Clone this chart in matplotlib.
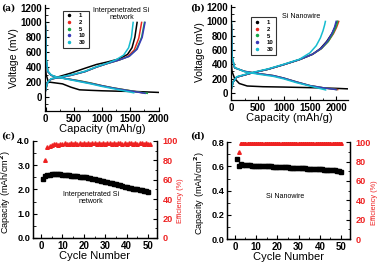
import numpy as np
import matplotlib.pyplot as plt
from matplotlib.ticker import AutoMinorLocator

plt.rcParams['font.family'] = 'Liberation Sans'
plt.rcParams['font.weight'] = 'bold'

cycles = ['1', '2', '5', '10', '30']
colors = ['#000000', '#e8281e', '#16a84a', '#3a3ab8', '#16bcd0']

# ---- (a) interpenetrated Si network: voltage profiles (capacity mAh/g, voltage mV)
a_dis_cap = [
    [0, 10, 50, 150, 300, 450, 600, 800, 1000, 1300, 1600, 1800, 2000],
    [0, 10, 40, 100, 200, 400, 600, 800, 1000, 1200, 1400, 1600, 1720],
    [0, 10, 40, 100, 200, 400, 600, 800, 1000, 1200, 1400, 1600, 1800],
    [0, 10, 40, 100, 200, 400, 600, 800, 1000, 1200, 1400, 1600, 1760],
    [0, 10, 40, 100, 200, 400, 600, 800, 1000, 1200, 1400, 1560],
]
a_dis_v = [
    [380, 300, 200, 190, 175, 130, 95, 88, 82, 76, 72, 66, 60],
    [950, 500, 340, 290, 265, 240, 215, 185, 150, 120, 95, 70, 55],
    [950, 500, 340, 290, 265, 240, 215, 185, 150, 120, 95, 70, 48],
    [950, 500, 340, 290, 265, 240, 210, 180, 148, 118, 92, 68, 48],
    [1000, 520, 350, 295, 265, 235, 205, 175, 140, 110, 80, 55],
]
a_chg_cap = [
    [0, 30, 100, 250, 450, 700, 900, 1100, 1300, 1450, 1530, 1580, 1620],
    [0, 30, 100, 250, 450, 700, 900, 1100, 1300, 1450, 1570, 1650, 1700],
    [0, 30, 100, 250, 450, 700, 900, 1100, 1300, 1480, 1610, 1700, 1750],
    [0, 30, 100, 250, 450, 700, 900, 1100, 1300, 1480, 1620, 1710, 1760],
    [0, 30, 100, 250, 450, 700, 900, 1100, 1250, 1380, 1470, 1520, 1550],
]
a_chg_v = [
    [80, 180, 240, 275, 320, 385, 435, 470, 510, 570, 660, 800, 1000],
    [90, 190, 240, 262, 290, 340, 400, 450, 495, 540, 630, 790, 1000],
    [90, 190, 240, 262, 290, 340, 400, 450, 495, 545, 640, 800, 1000],
    [90, 190, 240, 262, 290, 340, 400, 450, 495, 545, 640, 800, 1000],
    [90, 190, 245, 265, 295, 345, 405, 455, 500, 560, 660, 800, 1000],
]

# ---- (b) Si nanowire: voltage profiles
b_dis_cap = [
    [0, 10, 60, 150, 300, 600, 1000, 1500, 2000, 2220],
    [0, 10, 60, 250, 500, 800, 1000, 1250, 1500, 1750, 2030],
    [0, 10, 60, 250, 500, 800, 1000, 1250, 1500, 1750, 2010],
    [0, 10, 60, 250, 500, 800, 1000, 1250, 1500, 1750, 2000],
    [0, 10, 60, 250, 500, 800, 1000, 1250, 1500, 1800],
]
b_dis_v = [
    [400, 300, 200, 130, 95, 85, 80, 72, 62, 55],
    [950, 500, 350, 300, 270, 240, 205, 150, 100, 70, 45],
    [950, 500, 350, 300, 270, 240, 205, 150, 100, 70, 45],
    [950, 500, 350, 300, 270, 240, 205, 150, 100, 70, 45],
    [1000, 520, 355, 295, 262, 230, 195, 140, 95, 40],
]
b_chg_cap = [
    [0, 30, 100, 400, 700, 1000, 1300, 1550, 1700, 1820, 1920, 1980, 2020],
    [0, 30, 100, 400, 700, 1000, 1300, 1550, 1720, 1850, 1950, 2010, 2050],
    [0, 30, 100, 400, 700, 1000, 1300, 1550, 1720, 1850, 1940, 1995, 2030],
    [0, 30, 100, 400, 700, 1000, 1300, 1550, 1710, 1830, 1920, 1970, 2000],
    [0, 30, 100, 400, 700, 1000, 1300, 1500, 1620, 1700, 1750, 1780, 1795],
]
b_chg_v = [
    [60, 150, 220, 280, 330, 395, 465, 540, 620, 720, 830, 920, 1000],
    [60, 150, 220, 280, 330, 395, 465, 540, 620, 720, 830, 920, 1000],
    [60, 150, 220, 280, 330, 395, 465, 540, 620, 720, 830, 920, 1000],
    [60, 150, 220, 280, 330, 395, 465, 540, 620, 720, 830, 920, 1000],
    [60, 150, 225, 285, 335, 400, 470, 560, 660, 770, 870, 950, 1000],
]

# ---- (c) interpenetrated Si network: cycling
c_cycle = list(range(1, 51))
c_capacity = [2.45, 2.55, 2.58, 2.60, 2.62, 2.63, 2.63, 2.62, 2.62, 2.61,
              2.60, 2.59, 2.58, 2.57, 2.56, 2.55, 2.54, 2.53, 2.52, 2.51,
              2.50, 2.48, 2.46, 2.44, 2.42, 2.40, 2.38, 2.36, 2.34, 2.32,
              2.30, 2.28, 2.26, 2.24, 2.22, 2.20, 2.18, 2.15, 2.12, 2.10,
              2.08, 2.06, 2.04, 2.02, 2.00, 1.98, 1.96, 1.94, 1.92, 1.91]
c_eff_cycle = list(range(2, 52))
c_efficiency = [80, 94, 95, 96, 97, 97, 96, 97, 97, 98,
                97, 97, 98, 97, 98, 97, 98, 97, 98, 97,
                98, 97, 98, 98, 97, 98, 97, 98, 97, 98,
                98, 97, 98, 97, 98, 98, 97, 98, 97, 98,
                98, 97, 98, 97, 98, 98, 97, 98, 97, 97]

# ---- (d) Si nanowire: cycling
d_cycle = list(range(1, 51))
d_capacity = [0.66, 0.60, 0.62, 0.615, 0.612, 0.610, 0.609, 0.608, 0.607, 0.606,
              0.605, 0.604, 0.603, 0.602, 0.601, 0.600, 0.600, 0.599, 0.598, 0.597,
              0.596, 0.595, 0.594, 0.593, 0.592, 0.591, 0.590, 0.589, 0.588, 0.587,
              0.586, 0.585, 0.584, 0.583, 0.582, 0.581, 0.580, 0.579, 0.578, 0.577,
              0.576, 0.575, 0.574, 0.573, 0.572, 0.570, 0.568, 0.566, 0.562, 0.558]
d_eff_cycle = list(range(2, 51))
d_efficiency = [90] + [99] * 48

RED = '#ee2222'

fig = plt.figure(figsize=(3.78, 2.65), dpi=100)

ax_a = fig.add_axes([0.119, 0.581, 0.302, 0.399])
ax_b = fig.add_axes([0.611, 0.623, 0.310, 0.358])
ax_c = fig.add_axes([0.0873, 0.102, 0.328, 0.366])
ax_d = fig.add_axes([0.6005, 0.098, 0.325, 0.365])


def style_ax(ax, size=7):
    ax.tick_params(direction='in', labelsize=size, width=0.8, length=3, pad=2)
    ax.tick_params(which='minor', direction='in', width=0.6, length=1.8)
    for sp in ax.spines.values():
        sp.set_linewidth(0.9)


def voltage_panel(ax, dis_cap, dis_v, chg_cap, chg_v, xmax, ybot):
    for i in range(len(cycles)):
        ax.plot(dis_cap[i], dis_v[i], color=colors[i], lw=1.1)
        ax.plot(chg_cap[i], chg_v[i], color=colors[i], lw=1.1)
    ax.set_xlim(-10, xmax)
    ax.set_ylim(ybot, 1230)
    ax.set_xticks([0, 500, 1000, 1500, 2000])
    ax.set_yticks([0, 200, 400, 600, 800, 1000, 1200])
    ax.xaxis.set_minor_locator(AutoMinorLocator(2))
    ax.yaxis.set_minor_locator(AutoMinorLocator(2))
    ax.spines['top'].set_visible(False)
    ax.spines['right'].set_visible(False)
    ax.set_xlabel('Capacity (mAh/g)', fontsize=8, labelpad=0)
    ax.set_ylabel('Voltage (mV)', fontsize=7.5, labelpad=1)
    style_ax(ax)
    handles = [plt.Line2D([], [], ls='none', marker='o', ms=1.5, color=c) for c in colors]
    leg = ax.legend(handles, cycles, loc='upper left', fontsize=4.3,
                    frameon=True, fancybox=False, edgecolor='black', handlelength=1.0,
                    handletextpad=1.2, borderpad=0.45, labelspacing=0.25,
                    borderaxespad=0)
    leg.get_frame().set_linewidth(0.8)
    return leg


leg = voltage_panel(ax_a, a_dis_cap, a_dis_v, a_chg_cap, a_chg_v, 2010, -190)
leg.set_bbox_to_anchor((0.16, 0.95), transform=ax_a.transAxes)
ax_a.text(0.67, 0.98, 'Interpenetrated Si\nnetwork', transform=ax_a.transAxes,
          fontsize=5, ha='center', va='top', fontweight='normal', linespacing=1.0)

leg = voltage_panel(ax_b, b_dis_cap, b_dis_v, b_chg_cap, b_chg_v, 2230, -100)
leg.set_bbox_to_anchor((0.17, 0.87), transform=ax_b.transAxes)
ax_b.text(0.60, 0.92, 'Si Nanowire', transform=ax_b.transAxes,
          fontsize=5, ha='center', va='top', fontweight='normal')


def cycle_panel(ax, cyc, cap, ecyc, eff, ymax, ystep, label, lx, rx):
    ax.plot(cyc, cap, ls='none', marker='s', ms=2.6, color='black')
    ax.set_xlim(-3.7, 54.1)
    ax.set_ylim(0, ymax)
    ax.set_xticks([0, 10, 20, 30, 40, 50])
    ax.set_yticks(np.arange(0, ymax + ystep / 2, ystep))
    ax.yaxis.set_major_formatter(plt.FormatStrFormatter('%.1f'))
    ax.xaxis.set_minor_locator(AutoMinorLocator(2))
    ax.yaxis.set_minor_locator(AutoMinorLocator(2))
    ax.spines['top'].set_visible(False)
    ax.set_xlabel('Cycle Number', fontsize=8, labelpad=0)
    ax.set_ylabel('Capacity (mAh/cm$^\\mathbf{2}$)', fontsize=6.6)
    ax.yaxis.set_label_coords(lx, 0.47)
    style_ax(ax, 6.6)
    ax.tick_params(axis='x', labelsize=7)
    ax2 = ax.twinx()
    ax2.plot(ecyc, eff, ls='none', marker='^', ms=2.6, color=RED)
    ax2.set_ylim(0, 100)
    ax2.set_yticks([0, 20, 40, 60, 80, 100])
    ax2.yaxis.set_minor_locator(AutoMinorLocator(2))
    ax2.spines['top'].set_visible(False)
    ax2.set_ylabel('Efficiency (%)', fontsize=5.3, color=RED)
    ax2.yaxis.set_label_coords(rx, 0.38)
    style_ax(ax2, 6.6)
    ax2.tick_params(axis='y', labelcolor=RED, pad=4)
    ax.text(0.47, 0.48, label, transform=ax.transAxes, fontsize=5,
            ha='center', va='top', fontweight='normal', linespacing=1.0)


cycle_panel(ax_c, c_cycle, c_capacity, c_eff_cycle, c_efficiency, 4.0, 1.0,
            'Interpenetrated Si\nnetwork', -0.161, 1.165)
cycle_panel(ax_d, d_cycle, d_capacity, d_eff_cycle, d_efficiency, 0.8, 0.2,
            'Si Nanowire', -0.165, 1.171)

serif = {'family': 'DejaVu Serif', 'weight': 'bold', 'size': 6.5}
fig.text(0.003, 0.985, '(a)', fontdict=serif, va='top')
fig.text(0.503, 0.985, '(b)', fontdict=serif, va='top')
fig.text(0.003, 0.505, '(c)', fontdict=serif, va='top')
fig.text(0.503, 0.505, '(d)', fontdict=serif, va='top')

fig.savefig('out.png', dpi=100)
